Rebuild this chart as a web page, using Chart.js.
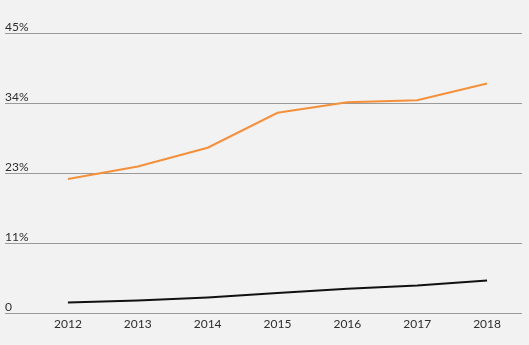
<!DOCTYPE html>
<html>
<head>
<meta charset="utf-8">
<script src="https://cdn.jsdelivr.net/npm/chart.js@4"></script>
<style>
  html, body { margin: 0; padding: 0; background: #f2f2f2; }
  #wrap { width: 529px; height: 345px; }
</style>
</head>
<body>
<div id="wrap"><canvas id="c" width="529" height="345"></canvas></div>
<script>
const years = ['2012', '2013', '2014', '2015', '2016', '2017', '2018'];
const orangeSeries = [21.6, 23.6, 26.6, 32.2, 33.9, 34.2, 36.9];
const blackSeries = [1.8, 2.1, 2.6, 3.3, 4.0, 4.5, 5.3];
const yTickValues = [0, 11.25, 22.5, 33.75, 45];
const yTickLabels = ['0', '11%', '23%', '34%', '45%'];

const gridColor = '#9a9a9a';
const textColor = '#2e2e2e';

new Chart(document.getElementById('c'), {
  type: 'line',
  data: {
    labels: years,
    datasets: [
      {
        data: orangeSeries,
        borderColor: '#f5903a',
        borderWidth: 2,
        pointRadius: 0,
        tension: 0,
        fill: false
      },
      {
        data: blackSeries,
        borderColor: '#111111',
        borderWidth: 2,
        pointRadius: 0,
        tension: 0,
        fill: false
      }
    ]
  },
  options: {
    responsive: false,
    devicePixelRatio: 1,
    animation: false,
    layout: { padding: { left: 5, right: 7, top: 33, bottom: 11 } },
    plugins: { legend: { display: false }, tooltip: { enabled: false } },
    scales: {
      x: {
        offset: true,
        grid: { display: false, drawTicks: false, tickLength: 0 },
        border: { display: false },
        ticks: {
          color: textColor,
          padding: 3,
          font: { family: 'Lato', size: 12 },
          maxRotation: 0
        }
      },
      y: {
        min: 0,
        max: 45,
        afterBuildTicks: (scale) => {
          scale.ticks = yTickValues.map(v => ({ value: v }));
        },
        afterFit: (scale) => { scale.width = 28; },
        grid: {
          color: gridColor,
          tickColor: gridColor,
          lineWidth: 1,
          drawTicks: true,
          tickLength: 28
        },
        border: { display: false },
        ticks: {
          color: textColor,
          padding: 0,
          align: 'end',
          crossAlign: 'far',
          font: { family: 'Lato', size: 12 },
          callback: (value, index) => yTickLabels[index]
        }
      }
    }
  }
});
</script>
</body>
</html>
